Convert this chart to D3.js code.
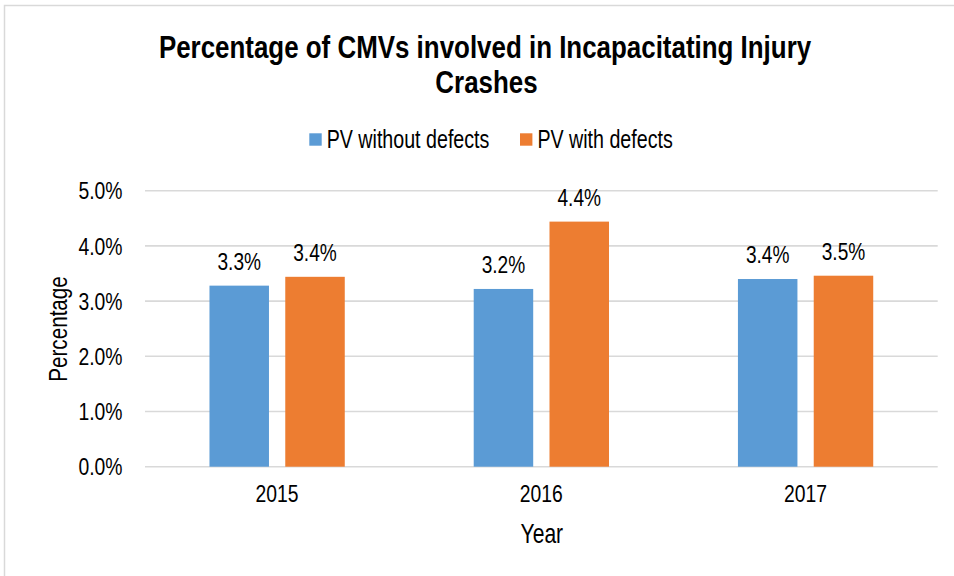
<!DOCTYPE html>
<html>
<head>
<meta charset="utf-8">
<script src="https://cdn.jsdelivr.net/npm/d3@7"></script>
<style>
  html, body { margin: 0; padding: 0; background: #fff; }
  svg { display: block; }
</style>
</head>
<body>
<svg id="chart" width="954" height="576"></svg>
<script>
// ---- data ----
const categories = ["2015", "2016", "2017"];
const seriesNames = ["PV without defects", "PV with defects"];
const withoutDefects = [3.28, 3.22, 3.40];
const withDefects = [3.44, 4.44, 3.46];
const yTicks = [0, 1, 2, 3, 4, 5];
const titleLines = ["Percentage of CMVs involved in Incapacitating Injury", "Crashes"];
const xAxisTitle = "Year";
const yAxisTitle = "Percentage";
const colors = ["#5b9bd5", "#ed7d31"];

const seriesValues = [withoutDefects, withDefects];

const svg = d3.select("#chart");
const FONT = "'Liberation Sans', Arial, sans-serif";

function txt(g, x, y, s, opts) {
  opts = opts || {};
  const sx = opts.sx || 0.78;
  const t = g.append("text")
    .attr("transform", `translate(${x},${y})${opts.rotate ? " rotate(" + opts.rotate + ")" : ""} scale(${sx},1)`)
    .attr("x", 0).attr("y", 0)
    .attr("font-family", FONT)
    .attr("font-size", opts.size || 24)
    .attr("font-weight", opts.weight || "normal")
    .attr("fill", opts.fill || "#000")
    .attr("text-anchor", opts.anchor || "middle")
    .text(s);
  return t;
}

// border
svg.append("rect").attr("x", 4.5).attr("y", 5.5).attr("width", 980).attr("height", 620)
  .attr("fill", "none").attr("stroke", "#d9d9d9").attr("stroke-width", 1.5);

// scales
const plot = { left: 145, right: 937.7, top: 190.7, bottom: 466.7 };
const y = d3.scaleLinear().domain([0, 5]).range([plot.bottom, plot.top]);
const x0 = d3.scaleBand().domain(categories).range([plot.left, plot.right]).padding(0);
const groupW = x0.bandwidth() * 0.512;
const x1 = d3.scaleBand().domain(seriesNames).range([-groupW / 2, groupW / 2]).paddingInner(0.215).paddingOuter(0);

// gridlines
svg.append("g").selectAll("line").data(yTicks).join("line")
  .attr("x1", plot.left).attr("x2", plot.right)
  .attr("y1", d => y(d)).attr("y2", d => y(d))
  .attr("stroke", "#d9d9d9").attr("stroke-width", 1.6);

// y tick labels
const yl = svg.append("g");
yTicks.forEach(d => txt(yl, 122.5, y(d) + 8.6, d.toFixed(1) + "%", { anchor: "end", size: 24.8 }));

// bars
const barsG = svg.append("g");
categories.forEach((c, i) => {
  const cx = x0(c) + x0.bandwidth() / 2;
  seriesNames.forEach((s, j) => {
    const v = seriesValues[j][i];
    barsG.append("rect")
      .attr("x", cx + x1(s)).attr("width", x1.bandwidth())
      .attr("y", y(v)).attr("height", y(0) - y(v))
      .attr("fill", colors[j]);
    txt(barsG, cx + x1(s) + x1.bandwidth() / 2, y(v) - 15.7, v.toFixed(1) + "%", { size: 24.5 });
  });
});

// x category labels
const xl = svg.append("g");
categories.forEach(c => txt(xl, x0(c) + x0.bandwidth() / 2, 502.4, c, { size: 24.8 }));

// axis titles
txt(svg, (plot.left + plot.right) / 2 + 0.5, 542.5, xAxisTitle, { size: 27 });
txt(svg, 66.5, 329, yAxisTitle, { size: 26.5, rotate: -90 });

// title
txt(svg, 485, 58, titleLines[0], { size: 32, weight: "bold", sx: 0.81 });
txt(svg, 486.5, 93, titleLines[1], { size: 32, weight: "bold", sx: 0.81 });

// legend
const legX = [309.3, 520];
const lg = svg.append("g");
seriesNames.forEach((s, j) => {
  lg.append("rect").attr("x", legX[j]).attr("y", 133.3).attr("width", 12.4).attr("height", 12.4).attr("fill", colors[j]);
  txt(lg, legX[j] + 17.4, 148.4, s, { anchor: "start", size: 25.2 });
});
</script>
</body>
</html>
